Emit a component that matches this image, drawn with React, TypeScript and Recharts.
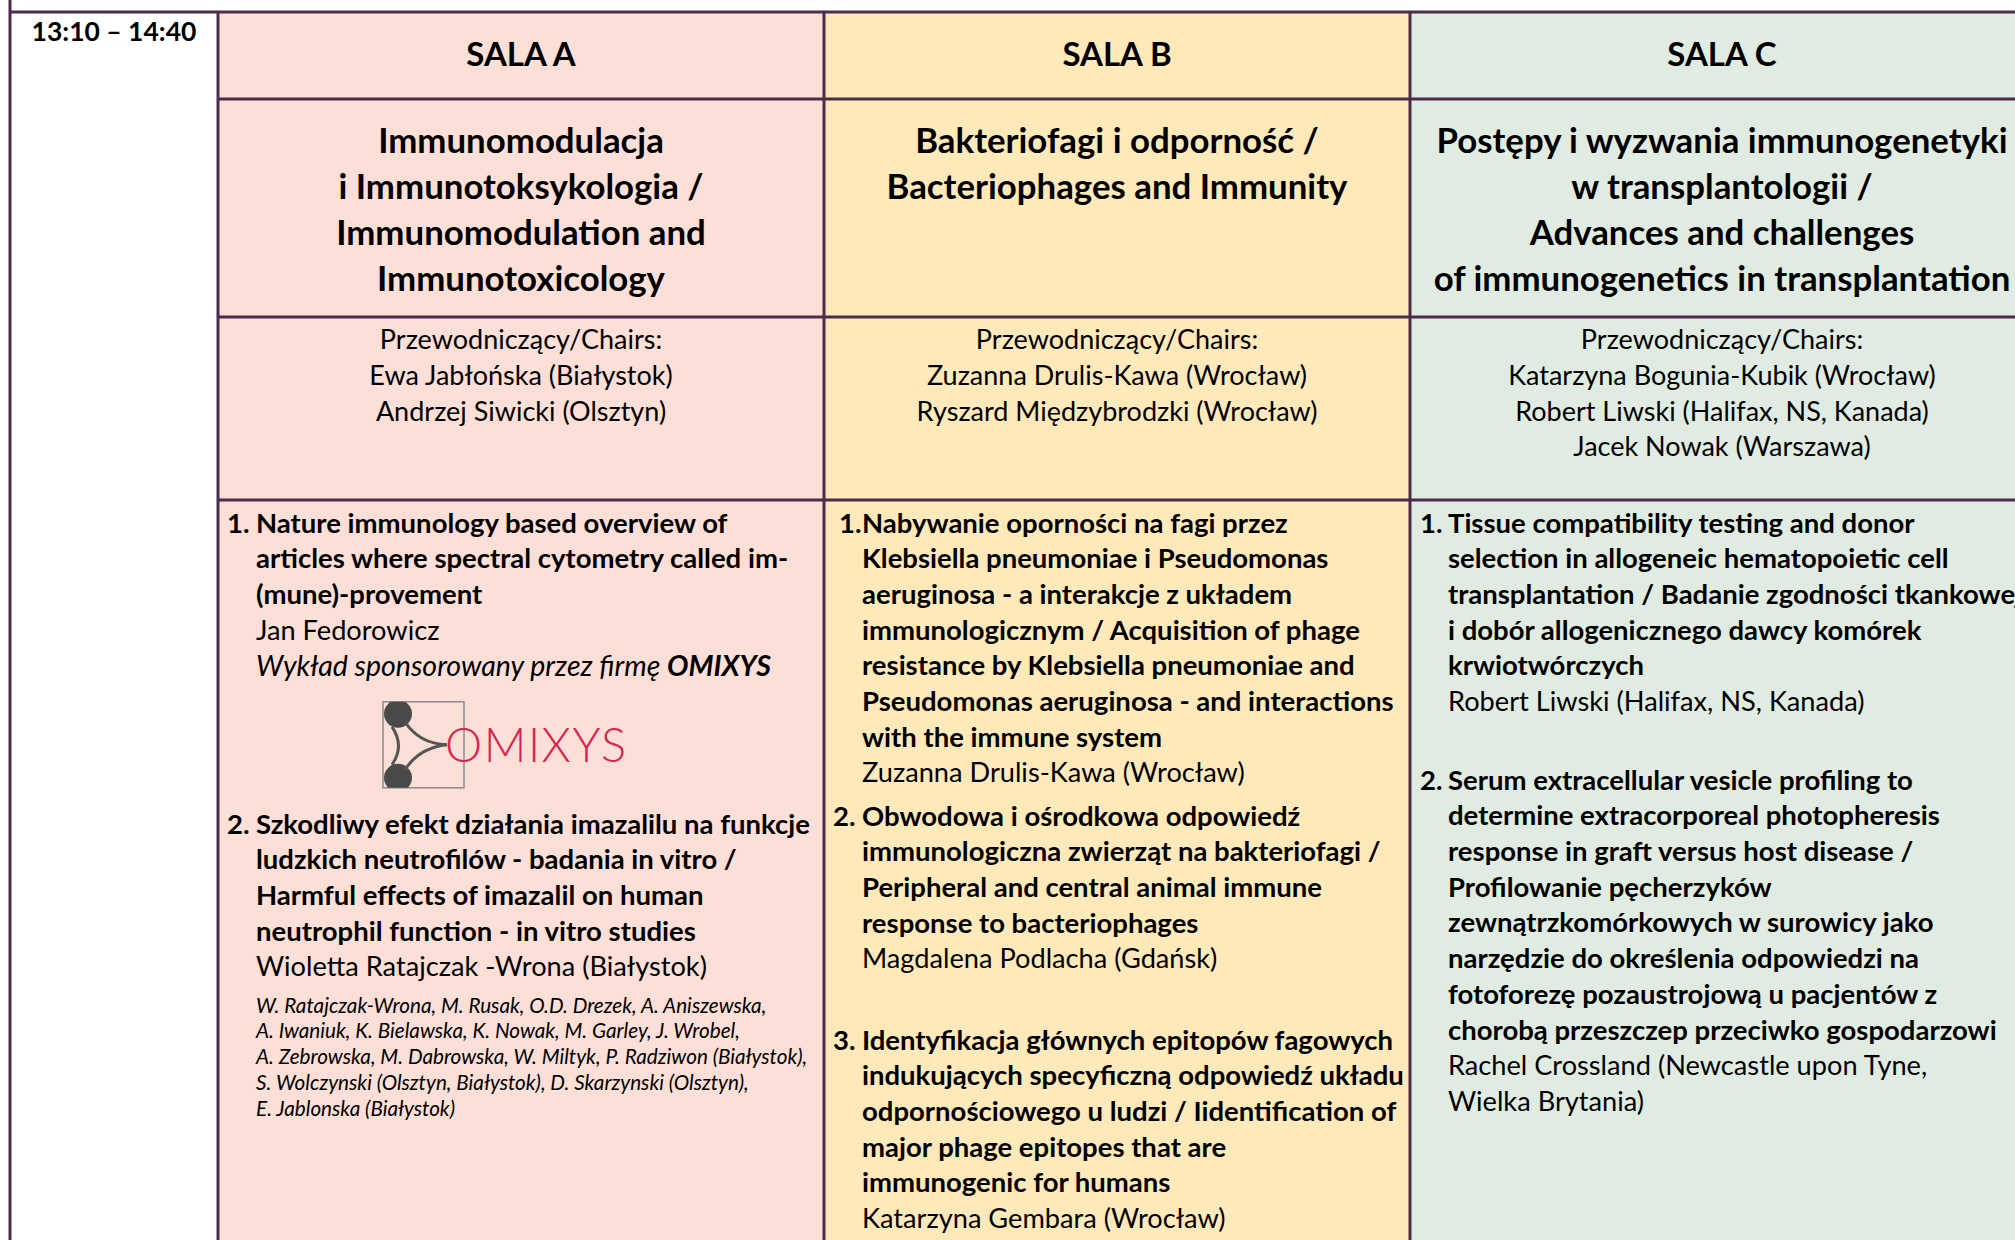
import React from 'react';
import { ComposedChart, XAxis, YAxis, Scatter, ReferenceArea, ReferenceLine } from 'recharts';

// ---- content ----
const timeLabel = ['13:10 – 14:40'];
const roomNames = ['SALA A', 'SALA B', 'SALA C'];
const roomColors = ['#fcdfd7', '#fee9ba', '#e0ece2'];

const sessionTitleA = ['Immunomodulacja', 'i Immunotoksykologia /', 'Immunomodulation and', 'Immunotoxicology'];
const sessionTitleB = ['Bakteriofagi i odporność /', 'Bacteriophages and Immunity'];
const sessionTitleC = ['Postępy i wyzwania immunogenetyki', 'w transplantologii  /', 'Advances and challenges', 'of immunogenetics in transplantation'];

const chairsA = ['Przewodniczący/Chairs:', 'Ewa Jabłońska (Białystok)', 'Andrzej Siwicki (Olsztyn)'];
const chairsB = ['Przewodniczący/Chairs:', 'Zuzanna Drulis-Kawa (Wrocław)', 'Ryszard Międzybrodzki (Wrocław)'];
const chairsC = ['Przewodniczący/Chairs:', 'Katarzyna Bogunia-Kubik (Wrocław)', 'Robert Liwski (Halifax, NS, Kanada)', 'Jacek Nowak (Warszawa)'];

interface Talk {
  num: string;
  title: string[];
  speaker: string[];
  sponsor?: [string, string];
  authors?: string[];
}

const talksA: Talk[] = [
  {
    num: '1.',
    title: ['Nature immunology based overview of', 'articles where spectral cytometry called im-', '(mune)-provement'],
    speaker: ['Jan Fedorowicz'],
    sponsor: ['Wykład sponsorowany przez firmę ', 'OMIXYS'],
  },
  {
    num: '2.',
    title: ['Szkodliwy efekt działania imazalilu na funkcje', 'ludzkich neutrofilów - badania in vitro /', 'Harmful effects of imazalil on human', 'neutrophil function - in vitro studies'],
    speaker: ['Wioletta Ratajczak -Wrona (Białystok)'],
    authors: [
      'W. Ratajczak-Wrona, M. Rusak, O.D. Drezek, A. Aniszewska,',
      'A. Iwaniuk, K. Bielawska, K. Nowak, M. Garley, J. Wrobel,',
      'A. Zebrowska, M. Dabrowska, W. Miltyk, P. Radziwon  (Białystok),',
      'S. Wolczynski (Olsztyn, Białystok), D. Skarzynski (Olsztyn),',
      'E. Jablonska (Białystok)',
    ],
  },
];

const talksB: Talk[] = [
  {
    num: '1.',
    title: ['Nabywanie oporności na fagi przez', 'Klebsiella pneumoniae i Pseudomonas', 'aeruginosa - a interakcje z układem', 'immunologicznym / Acquisition of phage', 'resistance by Klebsiella pneumoniae and', 'Pseudomonas aeruginosa - and interactions', 'with the immune system'],
    speaker: ['Zuzanna Drulis-Kawa (Wrocław)'],
  },
  {
    num: '2.',
    title: ['Obwodowa i ośrodkowa odpowiedź', 'immunologiczna zwierząt na bakteriofagi /', 'Peripheral and central animal immune', 'response to bacteriophages'],
    speaker: ['Magdalena Podlacha (Gdańsk)'],
  },
  {
    num: '3.',
    title: ['Identyfikacja głównych epitopów fagowych', 'indukujących specyficzną odpowiedź układu', 'odpornościowego u ludzi / Iidentification of', 'major phage epitopes that are', 'immunogenic for humans'],
    speaker: ['Katarzyna Gembara (Wrocław)'],
  },
];

const talksC: Talk[] = [
  {
    num: '1.',
    title: ['Tissue compatibility testing and donor', 'selection in allogeneic hematopoietic cell', 'transplantation / Badanie zgodności tkankowej', 'i dobór allogenicznego dawcy komórek', 'krwiotwórczych'],
    speaker: ['Robert Liwski (Halifax, NS, Kanada)'],
  },
  {
    num: '2.',
    title: ['Serum extracellular vesicle profiling to', 'determine extracorporeal photopheresis', 'response in graft versus host disease /', 'Profilowanie pęcherzyków', 'zewnątrzkomórkowych w surowicy jako', 'narzędzie do określenia odpowiedzi na', 'fotoforezę pozaustrojową u pacjentów z', 'chorobą przeszczep przeciwko gospodarzowi'],
    speaker: ['Rachel Crossland (Newcastle upon Tyne,', 'Wielka Brytania)'],
  },
];

// ---- layout ----
const W = 2015;
const H = 1240;
const FONT = 'Lato, "Open Sans", sans-serif';
const BORDER = '#4b2d4a';
const colEdges = [218, 824, 1410, 2034];
const rowEdges = [12, 99, 317, 500];
const LINE = 35.7;
const talkTops = [[523, 824], [523, 816, 1040], [523, 780]];
const numX = [[227, 227], [839, 833, 833], [1420, 1420]];
const textX = [256, 862, 1448];

type Pt = { x: number; y: number; text?: string; parts?: [string, string] };

const mid = (c: number) => (colEdges[c] + colEdges[c + 1]) / 2;

const headPts: Pt[] = roomNames.map((t, c) => ({ x: mid(c), y: 54, text: t }));
const timePts: Pt[] = timeLabel.map((t) => ({ x: 114, y: 32, text: t }));
const titlePts: Pt[] = [sessionTitleA, sessionTitleB, sessionTitleC].flatMap((lines, c) =>
  lines.map((t, i) => ({ x: mid(c), y: 141 + i * 46, text: t }))
);
const chairPts: Pt[] = [chairsA, chairsB, chairsC].flatMap((lines, c) =>
  lines.map((t, i) => ({ x: mid(c), y: 340 + i * 35.6, text: t }))
);

const boldPts: Pt[] = [];
const regPts: Pt[] = [];
const smallPts: Pt[] = [];
const sponsorPts: Pt[] = [];
const logoPts: Pt[] = [];

[talksA, talksB, talksC].forEach((talks, c) => {
  talks.forEach((talk, i) => {
    let y = talkTops[c][i];
    boldPts.push({ x: numX[c][i], y, text: talk.num });
    talk.title.forEach((t) => {
      boldPts.push({ x: textX[c], y, text: t });
      y += LINE;
    });
    talk.speaker.forEach((t) => {
      regPts.push({ x: textX[c], y, text: t });
      y += LINE;
    });
    if (talk.sponsor) {
      sponsorPts.push({ x: textX[c], y, parts: talk.sponsor });
      logoPts.push({ x: 423, y: y + 79 });
      y += LINE;
    }
    if (talk.authors) {
      let ay = y + 3;
      talk.authors.forEach((t) => {
        smallPts.push({ x: textX[c], y: ay, text: t });
        ay += 25.7;
      });
    }
  });
});

const makeText = (size: number, weight: number, anchor: 'start' | 'middle', italic = false) =>
  (props: any) => {
    const { cx, cy, payload } = props;
    return (
      <text
        x={cx}
        y={cy + size * 0.35}
        fontSize={size}
        fontWeight={weight}
        fontStyle={italic ? 'italic' : 'normal'}
        fontFamily={FONT}
        textAnchor={anchor}
        fill="#000"
      >
        {payload.text}
      </text>
    );
  };

const SponsorShape = (props: any) => {
  const { cx, cy, payload } = props;
  return (
    <text x={cx} y={cy + 28 * 0.35} fontSize={28.5} fontStyle="italic" fontFamily={FONT} fill="#000">
      <tspan>{payload.parts[0]}</tspan>
      <tspan fontWeight={700}>{payload.parts[1]}</tspan>
    </text>
  );
};

const LogoShape = (props: any) => {
  const { cx, cy } = props;
  const x0 = cx - 40;
  const y0 = cy - 43;
  return (
    <g>
      <defs>
        <clipPath id="logoClip">
          <rect x={x0} y={y0} width={81} height={86} />
        </clipPath>
      </defs>
      <rect x={x0} y={y0} width={81} height={86} fill="none" stroke="#8c8c8c" strokeWidth={1.5} />
      <g clipPath="url(#logoClip)" fill="#4a4a4a">
        <circle cx={x0 + 15} cy={y0 + 12} r={14} />
        <circle cx={x0 + 15} cy={y0 + 76} r={14} />
      </g>
      <g fill="none" stroke="#555" strokeWidth={3}>
        <path d={`M${x0 + 22} ${y0 + 20} Q${x0 + 36} ${y0 + 42} ${x0 + 64} ${y0 + 43}`} />
        <path d={`M${x0 + 22} ${y0 + 68} Q${x0 + 36} ${y0 + 46} ${x0 + 64} ${y0 + 43}`} />
        <path d={`M${x0 + 9} ${y0 + 25} Q${x0 + 22} ${y0 + 44} ${x0 + 9} ${y0 + 63}`} />
      </g>
      <text x={x0 + 62} y={y0 + 60} fontSize={47} fontWeight={300} fontFamily={FONT} fill="#d6264f" letterSpacing={1.5}>
        OMIXYS
      </text>
    </g>
  );
};

const App: React.FC = () => {
  const vLines = [colEdges[0], colEdges[1], colEdges[2]];
  const hLines = [rowEdges[1], rowEdges[2], rowEdges[3]];
  return (
    <div style={{ position: 'absolute', left: 0, top: 0, width: W, height: H, background: '#fff' }}>
      <ComposedChart width={W} height={H} margin={{ top: 0, right: 0, bottom: 0, left: 0 }}>
        <XAxis type="number" dataKey="x" domain={[0, W]} hide allowDataOverflow />
        <YAxis type="number" dataKey="y" domain={[0, H]} reversed hide allowDataOverflow />

        {roomColors.map((col, c) => (
          <ReferenceArea
            key={col}
            x1={colEdges[c]}
            x2={colEdges[c + 1]}
            y1={rowEdges[0]}
            y2={H}
            fill={col}
            fillOpacity={1}
            stroke="none"
            ifOverflow="visible"
          />
        ))}

        <ReferenceLine segment={[{ x: 10, y: 0 }, { x: 10, y: H }]} stroke={BORDER} strokeWidth={3} ifOverflow="visible" />
        <ReferenceLine segment={[{ x: 10, y: rowEdges[0] }, { x: W, y: rowEdges[0] }]} stroke={BORDER} strokeWidth={3} ifOverflow="visible" />
        {vLines.map((x) => (
          <ReferenceLine key={'v' + x} segment={[{ x, y: rowEdges[0] }, { x, y: H }]} stroke={BORDER} strokeWidth={3} ifOverflow="visible" />
        ))}
        {hLines.map((y) => (
          <ReferenceLine key={'h' + y} segment={[{ x: colEdges[0], y }, { x: W, y }]} stroke={BORDER} strokeWidth={3} ifOverflow="visible" />
        ))}

        <Scatter data={timePts} shape={makeText(26.5, 700, 'middle')} isAnimationActive={false} />
        <Scatter data={headPts} shape={makeText(33, 700, 'middle')} isAnimationActive={false} />
        <Scatter data={titlePts} shape={makeText(34.8, 700, 'middle')} isAnimationActive={false} />
        <Scatter data={chairPts} shape={makeText(27, 400, 'middle')} isAnimationActive={false} />
        <Scatter data={boldPts} shape={makeText(27.5, 700, 'start')} isAnimationActive={false} />
        <Scatter data={regPts} shape={makeText(27.2, 400, 'start')} isAnimationActive={false} />
        <Scatter data={sponsorPts} shape={SponsorShape} isAnimationActive={false} />
        <Scatter data={smallPts} shape={makeText(20.7, 400, 'start', true)} isAnimationActive={false} />
        <Scatter data={logoPts} shape={LogoShape} isAnimationActive={false} />
      </ComposedChart>
    </div>
  );
};

export default App;
